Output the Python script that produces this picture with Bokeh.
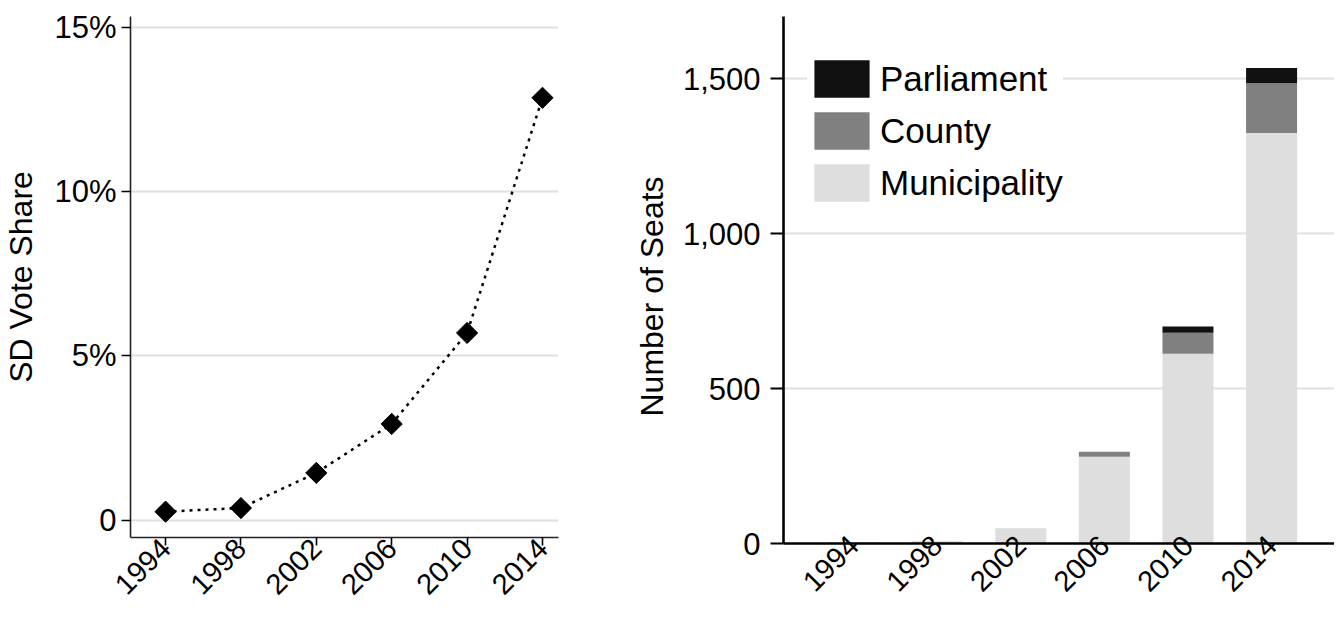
import math
from bokeh.plotting import figure
from bokeh.models import (ColumnDataSource, FixedTicker, Range1d, Legend,
                          LegendItem, Title)
from bokeh.layouts import row
from bokeh.embed import file_html
from bokeh.resources import INLINE

# ---- data ----
years = [1994, 1998, 2002, 2006, 2010, 2014]
vote_share = [0.26, 0.37, 1.44, 2.93, 5.70, 12.86]  # percent
municipality = [5, 8, 49, 280, 612, 1324]
county = [0, 0, 0, 16, 68, 161]
parliament = [0, 0, 0, 0, 20, 49]

vote_ticks = [0, 5, 10, 15]
vote_tick_labels = ["0", "5%", "10%", "15%"]
seat_ticks = [0, 500, 1000, 1500]
seat_tick_labels = ["0", "500", "1,000", "1,500"]
year_tick_labels = [str(y) for y in years]

series_names = ["Municipality", "County", "Parliament"]
series_colors = ["#dedede", "#808080", "#111111"]

FONT = "Liberation Sans"
GRID = "#e0e0e0"


def style_common(p):
    p.outline_line_color = None
    p.background_fill_color = "white"
    p.border_fill_color = "white"
    for ax in (p.xaxis[0], p.yaxis[0]):
        ax.major_label_text_font = FONT
        ax.axis_label_text_font = FONT
        ax.major_label_text_color = "black"
        ax.axis_label_text_color = "black"
        ax.axis_label_text_font_style = "normal"
        ax.minor_tick_line_color = None
        ax.major_tick_in = 0
    p.xgrid.grid_line_color = None
    p.ygrid.grid_line_color = GRID
    p.ygrid.grid_line_width = 2


# ---- left: vote share ----
p1 = figure(frame_width=428, frame_height=521,
            x_range=Range1d(1992.14, 2014.85), y_range=Range1d(-0.527, 15.335),
            output_backend="svg", toolbar_location=None,
            min_border_left=124, min_border_right=40,
            min_border_top=6, min_border_bottom=79)
style_common(p1)
src1 = ColumnDataSource(dict(year=years, share=vote_share))
p1.line("year", "share", source=src1, line_color="black", line_width=2.5,
        line_dash="3 5")
p1.scatter("year", "share", source=src1, marker="square", size=15,
           angle=math.pi / 4, fill_color="black", line_color="black")

p1.yaxis.ticker = FixedTicker(ticks=vote_ticks)
p1.yaxis.major_label_overrides = dict(zip(vote_ticks, vote_tick_labels))
p1.yaxis.axis_label = "SD Vote Share"
p1.yaxis.axis_label_text_font_size = "32px"
p1.yaxis.major_label_text_font_size = "31px"
p1.yaxis.major_tick_out = 9
p1.yaxis.major_label_standoff = 5
p1.yaxis.axis_label_standoff = 12
p1.yaxis.axis_line_color = "#222222"
p1.yaxis.axis_line_width = 1.6
p1.yaxis.major_tick_line_width = 1.6
p1.ygrid.ticker = FixedTicker(ticks=vote_ticks)

p1.xaxis.ticker = FixedTicker(ticks=years)
p1.xaxis.major_label_overrides = dict(zip(years, year_tick_labels))
p1.xaxis.major_label_orientation = math.pi / 4
p1.xaxis.major_label_text_font_size = "29px"
p1.xaxis.major_tick_out = 8
p1.xaxis.major_label_standoff = -2
p1.xaxis.axis_line_color = "#222222"
p1.xaxis.axis_line_width = 1.6
p1.xaxis.major_tick_line_width = 1.6

# ---- right: seats ----
p2 = figure(frame_width=551, frame_height=527,
            x_range=Range1d(1990.65, 2017.01), y_range=Range1d(0, 1700),
            output_backend="svg", toolbar_location=None,
            min_border_left=185, min_border_right=0,
            min_border_top=16, min_border_bottom=63)
style_common(p2)
src2 = ColumnDataSource(dict(year=years, Municipality=municipality,
                             County=county, Parliament=parliament))
rs = p2.vbar_stack(series_names, x="year", width=2.44, color=series_colors,
                   line_color=None, source=src2)

legend = Legend(items=[LegendItem(label=n, renderers=[r])
                       for n, r in reversed(list(zip(series_names, rs)))],
                location=(24, 337), orientation="vertical",
                glyph_width=69, glyph_height=47, label_height=47,
                label_width=183,
                spacing=5, padding=13, margin=0,
                label_text_font=FONT, label_text_font_size="35px",
                label_text_color="black", label_standoff=4,
                border_line_color=None, background_fill_color="white",
                background_fill_alpha=1.0)
p2.add_layout(legend)

p2.yaxis.ticker = FixedTicker(ticks=seat_ticks)
p2.yaxis.major_label_overrides = dict(zip(seat_ticks, seat_tick_labels))
p2.yaxis.major_label_text_font_size = "31px"
p2.yaxis.major_tick_out = 13
p2.yaxis.major_label_standoff = 10
p2.yaxis.axis_line_color = "black"
p2.yaxis.axis_line_width = 2.6
p2.yaxis.major_tick_line_width = 2.2
p2.ygrid.ticker = FixedTicker(ticks=seat_ticks)

seat_title = Title(text="Number of Seats", align="left", offset=127,
                   text_font=FONT, text_font_size="32px",
                   text_font_style="normal", text_color="black", standoff=20)
p2.add_layout(seat_title, "left")

p2.xaxis.ticker = FixedTicker(ticks=years)
p2.xaxis.major_label_overrides = dict(zip(years, year_tick_labels))
p2.xaxis.major_label_orientation = math.pi / 4
p2.xaxis.major_label_text_font_size = "29px"
p2.xaxis.major_tick_out = 0
p2.xaxis.major_tick_line_color = None
p2.xaxis.major_label_standoff = -3
p2.xaxis.axis_line_color = "black"
p2.xaxis.axis_line_width = 2.6

layout = row(p1, p2)
open("out.html", "w").write(file_html(layout, INLINE))
